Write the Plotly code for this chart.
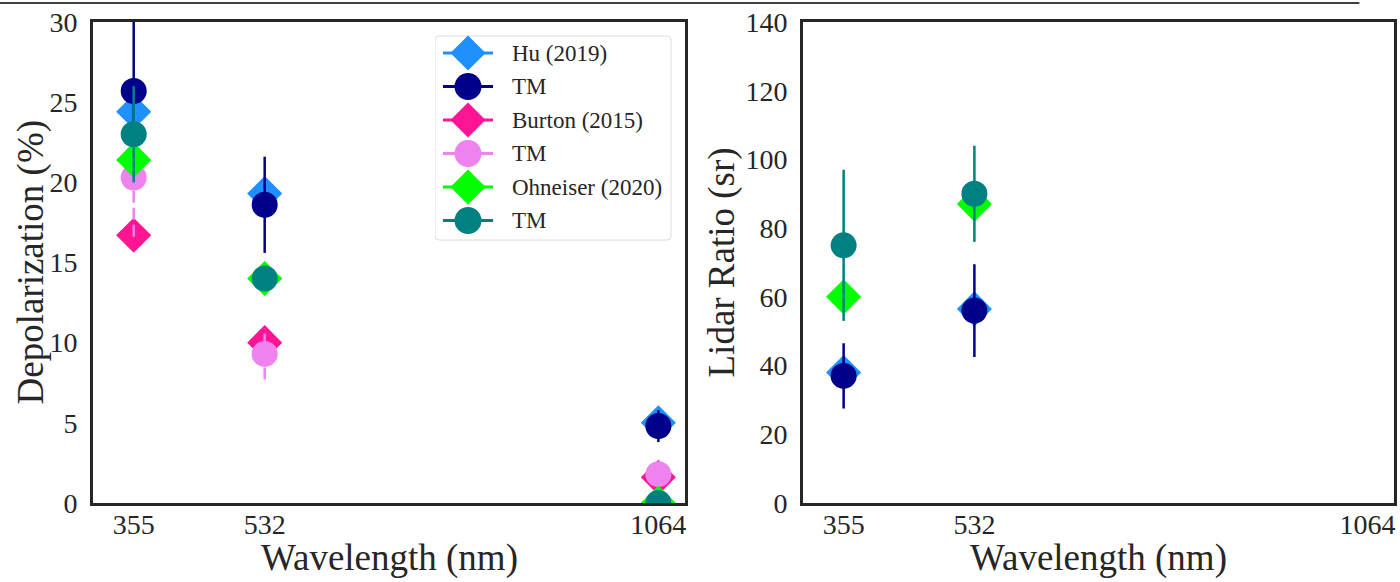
import plotly.graph_objects as go

# ---------------- data ----------------
wavelengths = [355, 532, 1064]

depol_hu = [24.4, 19.3, 5.0]
depol_tm_hu = [25.7, 18.6, 4.8]
depol_tm_hu_err = [5.0, 3.0, 1.0]
depol_burton = [16.7, 10.0, 1.6]
depol_tm_burton = [20.3, 9.3, 1.8]
depol_tm_burton_err = [3.7, 1.6, 0.3]
depol_ohneiser = [21.4, 14.0, 0.0]
depol_tm_ohneiser = [23.0, 14.0, 0.0]
depol_tm_ohneiser_err = [3.0, 0.5, 0.5]

lr_wavelengths = [355, 532]
lr_hu = [38.0, 56.5]
lr_tm_hu = [37.0, 56.0]
lr_tm_hu_err = [9.5, 13.5]
lr_ohneiser = [60.0, 87.0]
lr_tm_ohneiser = [75.0, 90.0]
lr_tm_ohneiser_err = [22.0, 14.0]

legend_labels = ["Hu (2019)", "TM", "Burton (2015)", "TM", "Ohneiser (2020)", "TM"]
legend_colors = ["#1E90FF", "#00008B", "#FF1493", "#EE82EE", "#00FF00", "#008080"]
legend_symbols = ["diamond", "circle", "diamond", "circle", "diamond", "circle"]

x_ticks = [355, 532, 1064]
depol_ticks = [0, 5, 10, 15, 20, 25, 30]
lr_ticks = [0, 20, 40, 60, 80, 100, 120, 140]

x_title = "Wavelength (nm)"
depol_title = "Depolarization (%)"
lr_title = "Lidar Ratio (sr)"

# ---------------- style ----------------
FONT = "Times New Roman, Liberation Serif, serif"
TXT = "#262626"
FRAME = "#262626"
DIA = 27
CIR = 26
EW = 2.5
W, H = 1400, 582

fig = go.Figure()


def diamonds(x, y, color, xa, ya):
    fig.add_trace(go.Scatter(x=x, y=y, mode="markers", xaxis=xa, yaxis=ya,
                             marker=dict(symbol="diamond", size=DIA, color=color, line=dict(width=0)),
                             showlegend=False, hoverinfo="skip"))


def circles(x, y, err, color, xa, ya, dashed=False):
    if dashed:
        ex, ey = [], []
        for xi, yi, ei in zip(x, y, err):
            ex += [xi, xi, None]
            ey += [yi - ei, yi + ei, None]
        fig.add_trace(go.Scatter(x=ex, y=ey, mode="lines", xaxis=xa, yaxis=ya,
                                 line=dict(color=color, width=EW, dash="12px,5px"),
                                 showlegend=False, hoverinfo="skip"))
        fig.add_trace(go.Scatter(x=x, y=y, mode="markers", xaxis=xa, yaxis=ya,
                                 marker=dict(symbol="circle", size=CIR, color=color, line=dict(width=0)),
                                 showlegend=False, hoverinfo="skip"))
    else:
        fig.add_trace(go.Scatter(x=x, y=y, mode="markers", xaxis=xa, yaxis=ya,
                                 marker=dict(symbol="circle", size=CIR, color=color, line=dict(width=0)),
                                 error_y=dict(type="data", array=err, visible=True, color=color,
                                              thickness=EW, width=0),
                                 showlegend=False, hoverinfo="skip"))


# left panel: depolarization
diamonds(wavelengths, depol_hu, legend_colors[0], "x", "y")
circles(wavelengths, depol_tm_hu, depol_tm_hu_err, legend_colors[1], "x", "y")
diamonds(wavelengths, depol_burton, legend_colors[2], "x", "y")
circles(wavelengths, depol_tm_burton, depol_tm_burton_err, legend_colors[3], "x", "y", dashed=True)
diamonds(wavelengths, depol_ohneiser, legend_colors[4], "x", "y")
circles(wavelengths, depol_tm_ohneiser, depol_tm_ohneiser_err, legend_colors[5], "x", "y")

# right panel: lidar ratio
diamonds(lr_wavelengths, lr_hu, legend_colors[0], "x2", "y2")
circles(lr_wavelengths, lr_tm_hu, lr_tm_hu_err, legend_colors[1], "x2", "y2")
diamonds(lr_wavelengths, lr_ohneiser, legend_colors[4], "x2", "y2")
circles(lr_wavelengths, lr_tm_ohneiser, lr_tm_ohneiser_err, legend_colors[5], "x2", "y2")

# custom legend drawn on a hidden axis pair (pixel units inside the legend box)
LBOX_W, LBOX_H = 237, 206
ROW0, ROWGAP = 18, 33.5
for i, (lab, col, sym) in enumerate(zip(legend_labels, legend_colors, legend_symbols)):
    yy = ROW0 + ROWGAP * i
    fig.add_trace(go.Scatter(x=[8, 58], y=[yy, yy], mode="lines", xaxis="x3", yaxis="y3",
                             line=dict(color=col, width=3), showlegend=False, hoverinfo="skip"))
    fig.add_trace(go.Scatter(x=[33], y=[yy], mode="markers", xaxis="x3", yaxis="y3",
                             marker=dict(symbol=sym, size=DIA if sym == "diamond" else 27,
                                         color=col, line=dict(width=0)),
                             showlegend=False, hoverinfo="skip"))
    fig.add_annotation(x=75, y=yy, xref="x3", yref="y3", text=lab, showarrow=False,
                       xanchor="left", yanchor="middle",
                       font=dict(family=FONT, size=23, color=TXT))

r = 4
fig.add_shape(type="path", xref="x3", yref="y3",
              path=(f"M {r},1 L {LBOX_W - 1 - r},1 Q {LBOX_W - 1},1 {LBOX_W - 1},{1 + r} "
                    f"L {LBOX_W - 1},{LBOX_H - 1 - r} Q {LBOX_W - 1},{LBOX_H - 1} {LBOX_W - 1 - r},{LBOX_H - 1} "
                    f"L {r},{LBOX_H - 1} Q 0,{LBOX_H - 1} 0,{LBOX_H - 1 - r} L 0,{1 + r} Q 0,1 {r},1 Z"),
              line=dict(color="#dcdcdc", width=1), fillcolor="rgba(255,255,255,0.8)", layer="below")

# thin line across the top of the figure
fig.add_shape(type="line", xref="paper", yref="paper", x0=0, x1=0.971, y0=0.9948, y1=0.9948,
              line=dict(color="black", width=1.5))

xdom1 = [93 / W, 685 / W]
xdom2 = [803 / W, 1394 / W]
ydom = [(H - 503) / H, (H - 22) / H]

# axis titles as annotations (placed like the reference)
title_font = dict(family=FONT, size=37, color=TXT)
xt_y = (H - 558) / H
yc = sum(ydom) / 2
fig.add_annotation(x=sum(xdom1) / 2, y=xt_y, xref="paper", yref="paper", text=x_title,
                   showarrow=False, xanchor="center", yanchor="middle", font=title_font)
fig.add_annotation(x=sum(xdom2) / 2, y=xt_y, xref="paper", yref="paper", text=x_title,
                   showarrow=False, xanchor="center", yanchor="middle", font=title_font)
fig.add_annotation(x=30 / W, y=yc, xref="paper", yref="paper", text=depol_title, textangle=-90,
                   showarrow=False, xanchor="center", yanchor="middle", font=title_font)
fig.add_annotation(x=721 / W, y=yc, xref="paper", yref="paper", text=lr_title, textangle=-90,
                   showarrow=False, xanchor="center", yanchor="middle", font=title_font)

common_x = dict(range=[300, 1100], tickvals=x_ticks, ticktext=[str(v) for v in x_ticks],
                showgrid=False, zeroline=False, showline=True, mirror=True,
                linecolor=FRAME, linewidth=3, ticks="", ticklabelstandoff=-6,
                tickfont=dict(family=FONT, size=28, color=TXT),
                automargin=False, fixedrange=True)
common_y = dict(showgrid=False, zeroline=False, showline=True, mirror=True,
                linecolor=FRAME, linewidth=3, ticks="", ticklabelstandoff=7,
                tickfont=dict(family=FONT, size=28, color=TXT),
                automargin=False, fixedrange=True)

fig.update_layout(
    width=W, height=H,
    margin=dict(l=0, r=0, t=0, b=0),
    paper_bgcolor="white", plot_bgcolor="white",
    showlegend=False,
    xaxis=dict(domain=xdom1, anchor="y", **common_x),
    yaxis=dict(domain=ydom, anchor="x", range=[0, 30], tickvals=depol_ticks, **common_y),
    xaxis2=dict(domain=xdom2, anchor="y2", **common_x),
    yaxis2=dict(domain=ydom, anchor="x2", range=[0, 140], tickvals=lr_ticks, **common_y),
    xaxis3=dict(domain=[435 / W, 672 / W], anchor="y3", range=[0, LBOX_W], visible=False,
                fixedrange=True),
    yaxis3=dict(domain=[(H - 241) / H, (H - 35) / H], anchor="x3", range=[LBOX_H, 0],
                visible=False, fixedrange=True),
)

fig.write_html("out.html", config={"displayModeBar": False},
               post_script="document.body.style.margin='0px';")
